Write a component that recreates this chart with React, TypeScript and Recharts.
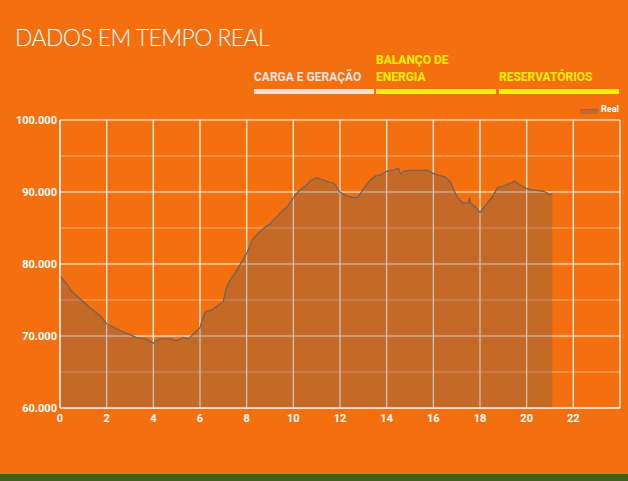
import React from "react";
import {
  AreaChart,
  Area,
  XAxis,
  YAxis,
  CartesianGrid,
} from "recharts";

const hours = [
  0, 0.25, 0.5, 0.75, 1, 1.25, 1.5, 1.75, 2, 2.25, 2.5, 2.75, 3, 3.25, 3.5,
  3.75, 4, 4.25, 4.5, 4.75, 5, 5.25, 5.5, 5.75, 6, 6.1, 6.25, 6.5, 6.75, 7,
  7.1, 7.25, 7.5, 7.75, 8, 8.25, 8.5, 8.75, 9, 9.25, 9.5, 9.75, 10, 10.25,
  10.5, 10.75, 11, 11.25, 11.5, 11.75, 12, 12.25, 12.5, 12.75, 13, 13.25,
  13.5, 13.75, 14, 14.25, 14.5, 14.6, 14.75, 15, 15.25, 15.5, 15.75, 16,
  16.25, 16.5, 16.75, 17, 17.25, 17.5, 17.55, 17.6, 17.75, 18, 18.25, 18.5,
  18.75, 19, 19.25, 19.5, 19.75, 20, 20.25, 20.5, 20.75, 21, 21.1,
];

const real = [
  78300, 77400, 76200, 75500, 74800, 74000, 73400, 72700, 71700, 71300,
  70900, 70500, 70200, 69800, 69700, 69500, 69000, 69600, 69600, 69600,
  69300, 69800, 69600, 70400, 71200, 72300, 73400, 73600, 74200, 74800,
  76400, 77600, 78700, 80100, 81500, 83400, 84300, 85000, 85600, 86400,
  87300, 88000, 89200, 90200, 90800, 91600, 92000, 91700, 91400, 91200,
  90000, 89500, 89300, 89200, 90400, 91500, 92200, 92400, 92900, 93000,
  93300, 92500, 92900, 93000, 93000, 93000, 93000, 92600, 92300, 92100,
  91300, 89400, 88500, 88500, 89200, 88400, 88100, 87200, 88200, 89200,
  90600, 90800, 91200, 91500, 90900, 90500, 90300, 90200, 90100, 89600,
  89800,
];

const xTicks = [0, 2, 4, 6, 8, 10, 12, 14, 16, 18, 20, 22];
const yTicks = [60000, 70000, 80000, 90000, 100000];
const yMinor = [65000, 75000, 85000, 95000];
const xGrid = [0, 2, 4, 6, 8, 10, 12, 14, 16, 18, 20, 22, 24];

const tabs = [
  { label: ["CARGA E GERAÇÃO"], color: "#E4E4E4", left: 254 },
  { label: ["BALANÇO DE", "ENERGIA"], color: "#FFF000", left: 376 },
  { label: ["RESERVATÓRIOS"], color: "#FFF000", left: 499 },
];

const data = hours.map((h, i) => ({ h, real: real[i] }));

const fmtY = (v: number) => (v / 1000).toFixed(3);

const tickStyle = {
  fill: "#FFFFFF",
  fontSize: 11,
  fontWeight: 700,
  fontFamily: "Roboto, sans-serif",
};

const App = () => {
  return (
    <div
      style={{
        position: "absolute",
        left: 0,
        top: 0,
        width: 628,
        height: 481,
        background: "#F4700F",
        overflow: "hidden",
        fontFamily: "Roboto, sans-serif",
      }}
    >
      <div
        style={{
          position: "absolute",
          left: 15,
          top: 23,
          color: "#FFFFFF",
          fontFamily: "Lato, sans-serif",
          fontWeight: 300,
          fontSize: 23,
          letterSpacing: -0.6,
        }}
      >
        DADOS EM TEMPO REAL
      </div>
      {tabs.map((t) => (
        <div key={t.left}>
          <div
            style={{
              position: "absolute",
              left: t.left,
              bottom: 481 - 86,
              color: t.color,
              fontSize: 12,
              fontWeight: 700,
              lineHeight: "17px",
            }}
          >
            {t.label.map((l) => (
              <div key={l}>{l}</div>
            ))}
          </div>
          <div
            style={{
              position: "absolute",
              left: t.left,
              top: 89,
              width: 120,
              height: 5,
              background: t.color,
            }}
          />
        </div>
      ))}
      {/* legend */}
      <div
        style={{
          position: "absolute",
          left: 580,
          top: 109,
          width: 18,
          height: 5,
          background: "#C4692A",
          borderTop: "1px solid #8A6A55",
          boxSizing: "border-box",
        }}
      />
      <div
        style={{
          position: "absolute",
          left: 601,
          top: 104,
          color: "#FFFFFF",
          fontSize: 9,
          fontWeight: 700,
        }}
      >
        Real
      </div>
      <AreaChart
        width={628}
        height={481}
        data={data}
        margin={{ top: 120, right: 8, bottom: 43, left: 0 }}
        style={{ position: "absolute", left: 0, top: 0 }}
      >
        <CartesianGrid
          horizontalValues={yMinor}
          vertical={false}
          stroke="rgba(255,255,255,0.45)"
          strokeWidth={1}
        />
        <CartesianGrid
          horizontalValues={yTicks}
          verticalValues={xGrid}
          stroke="#FFFFFF"
          strokeWidth={1.2}
        />
        <XAxis
          dataKey="h"
          type="number"
          domain={[0, 24]}
          ticks={xTicks}
          tick={tickStyle}
          tickLine={false}
          tickSize={0}
          tickMargin={6}
          axisLine={{ stroke: "#FFFFFF" }}
          interval={0}
          height={30}
        />
        <YAxis
          width={60}
          domain={[60000, 100000]}
          ticks={yTicks}
          tickFormatter={fmtY}
          tick={tickStyle}
          tickLine={false}
          tickSize={0}
          tickMargin={3}
          axisLine={{ stroke: "#FFFFFF" }}
          interval={0}
        />
        <Area
          type="linear"
          dataKey="real"
          stroke="#6E645C"
          strokeWidth={1.3}
          fill="#5F5A58"
          fillOpacity={0.32}
          isAnimationActive={false}
          dot={false}
          activeDot={false}
        />
      </AreaChart>
      <div
        style={{
          position: "absolute",
          left: 0,
          top: 474,
          width: 628,
          height: 7,
          background: "#465B1A",
        }}
      />
    </div>
  );
};

export default App;
